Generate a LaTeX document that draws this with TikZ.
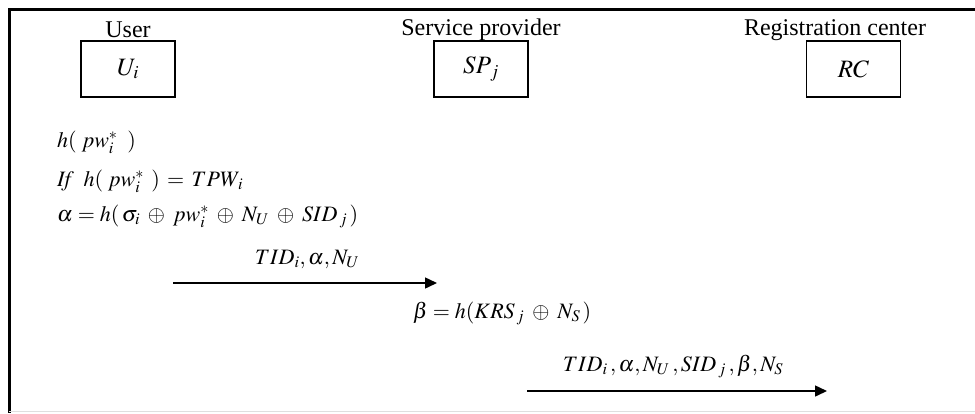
\documentclass[tikz,border=0pt]{standalone}
\usepackage{mathptmx}
\usepackage[no-math]{fontspec}
\setmainfont{Liberation Serif}
\usetikzlibrary{arrows.meta}

\tikzset{
  party/.style={font=\fontsize{24}{28}\selectfont, inner sep=0pt},
  entity/.style={draw, line width=1.5pt, minimum width=94pt, minimum height=56pt,
                 inner sep=0pt, font=\fontsize{25}{29}\selectfont},
  calc/.style={font=\fontsize{22}{26}\selectfont, inner sep=0pt, anchor=base west},
  msg/.style={line width=1.5pt, -{Triangle[length=12pt,width=11pt]}},
  frame/.style={line width=3pt}
}

\begin{document}
\begin{tikzpicture}[x=1pt, y=-1pt]
  \useasboundingbox (0,0) rectangle (975,413);

  % outer frame (top and left edges)
  \coordinate (ftl) at (9,9);
  \coordinate (ftr) at (975,9);
  \coordinate (fbl) at (9,413);
  \draw[frame] (ftr) -- (ftl) -- (fbl);
  \coordinate (bl) at (9,411.5);
  \coordinate (br) at (975,411.5);
  \draw[gray!25, line width=1pt] (bl) -- (br);

  % participants
  \node[party] (userlbl) at (128,30) {User};
  \node[entity] (ui) at (128,69) {$U_i$};

  \node[party] (splbl) at (481,30) {Service provider};
  \node[entity] (sp) at (481,69) {$SP_{\,j}$};

  \node[party] (rclbl) at (835,30) {Registration center};
  \node[entity] (rc) at (853.5,69) {$RC$};

  % user side computations
  \node[calc] (c1) at (57,147) {$h(\;pw_i^{*}\;\;)$};
  \node[calc] (c2) at (57,186) {$\mathit{If}\;\; h(\;pw_i^{*}\;\,) \,=\, TPW_{\,i}$};
  \node[calc] (c3) at (57,221)
    {$\alpha = h(\,\sigma_i \;\oplus\; pw_i^{*} \;\oplus\; N_U \;\oplus\; SID_{\,j}\,)$};

  % first message
  \node[calc] (m1) at (255,264) {$TID_i, \alpha, N_U$};
  \coordinate (m1s) at (173,283);
  \coordinate (m1e) at (437,283);
  \draw[msg] (m1s) -- (m1e);

  % service provider computation
  \node[calc] (c4) at (413,318) {$\beta = h(KRS_{\,j} \;\oplus\; N_S\,)$};

  % second message
  \node[calc] (m2) at (563,371) {$TID_i\,, \alpha, N_U\,, SID_{\,j}\,, \beta, N_S$};
  \coordinate (m2s) at (527,391);
  \coordinate (m2e) at (827,391);
  \draw[msg] (m2s) -- (m2e);
\end{tikzpicture}
\end{document}
